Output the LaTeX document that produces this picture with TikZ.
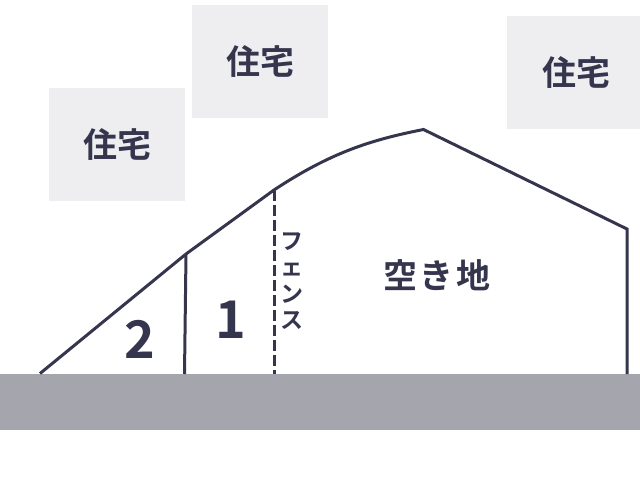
\documentclass[tikz,border=0pt]{standalone}
\usepackage{fontspec}
\setmainfont{Noto Sans CJK JP}[UprightFont=* Bold]
\definecolor{ink}{HTML}{35354E}
\definecolor{house}{HTML}{EEEEF1}
\definecolor{road}{HTML}{A5A5AE}
\tikzset{
 x=1pt,y=-1pt,
 housebox/.style={fill=house,draw=none,minimum width=136pt,minimum height=113pt,inner sep=0pt,text=ink,font=\fontsize{34}{34}\selectfont},
 lbl/.style={text=ink,inner sep=0pt},
 fenceline/.style={draw=ink,line width=3pt},
}
\begin{document}
\begin{tikzpicture}
\useasboundingbox (0,0) rectangle (640,480);
\node[housebox] (h1) at (117,144.5) {住宅};
\node[housebox] (h2) at (260,61) {住宅};
\node[housebox,minimum width=133pt,text width=133pt,align=center] (h3) at (573.5,72) {\hspace{5pt}住宅};
\fill[road] (0,374) rectangle (640,430);
\coordinate (a) at (40,373.5);
\coordinate (b) at (186,254);
\coordinate (c) at (274,190);
\coordinate (d) at (423.5,129.5);
\coordinate (e) at (627,229);
\coordinate (f) at (627,374);
\coordinate (b0) at (184.5,374);
\coordinate (c0) at (274,374);
\draw[fenceline,line join=miter] (a) -- (b) -- (c) .. controls (330,153) and (370,140) .. (d) -- (e) -- (f);
\draw[fenceline] (b) -- (b0);
\draw[fenceline,dash pattern=on 10.5pt off 4.5pt] (c) -- (c0);
\node[lbl,font=\fontsize{52}{52}\selectfont] (n2) at (139.5,339.5) {2};
\node[lbl,font=\fontsize{52}{52}\selectfont] (n1) at (231,320) {1};
\node[lbl,font=\fontsize{23}{26.5}\selectfont,align=center] (fence) at (291.5,281) {フ\\ェ\\ン\\ス};
\node[lbl,font=\fontsize{34}{34}\selectfont] (lot) at (436.5,275) {空\hspace{2.5pt}き\hspace{2.5pt}地};
\end{tikzpicture}
\end{document}
